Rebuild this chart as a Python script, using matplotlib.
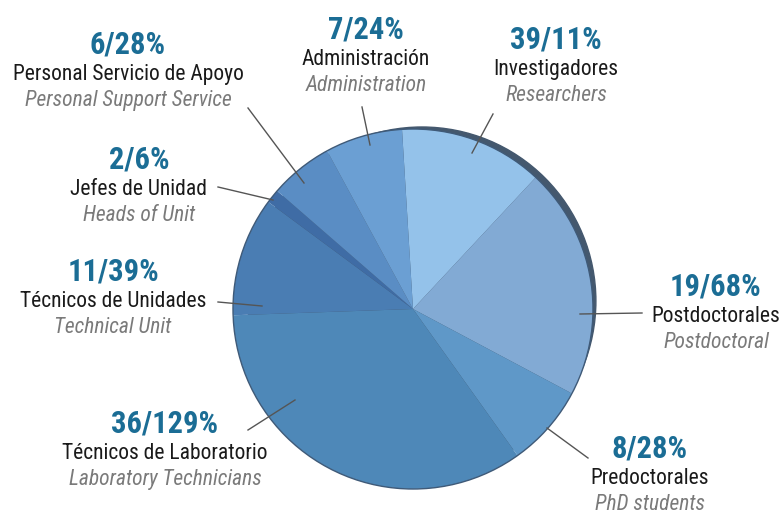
import matplotlib
matplotlib.use("Agg")
import matplotlib.pyplot as plt
from matplotlib.patches import Circle

# ---- data ----
groups_es = ["Investigadores", "Postdoctorales", "Predoctorales",
             "Técnicos de Laboratorio", "Técnicos de Unidades",
             "Jefes de Unidad", "Personal Servicio de Apoyo", "Administración"]
groups_en = ["Researchers", "Postdoctoral", "PhD students",
             "Laboratory Technicians", "Technical Unit",
             "Heads of Unit", "Personal Support Service", "Administration"]
counts = [39, 19, 8, 36, 11, 2, 6, 7]
pcts = [11, 68, 28, 129, 39, 6, 28, 24]
# wedge sizes as drawn in the picture (degrees)
slice_deg = [46.5, 75, 26.5, 123.5, 38.5, 4.5, 20.5, 25]

colors = ["#94c2ea", "#82aad4", "#5f98c8", "#4e88b8",
          "#4a7db3", "#3f6ca5", "#5a8dc4", "#6b9fd3"]

W, H = 781, 511
FONT = ["Roboto Condensed", "Roboto", "DejaVu Sans"]

# label anchor (image pixels): x centre, baseline of first line
label_pos = [(556, 48), (716, 295), (650, 457), (165, 432),
             (113, 280), (139, 168), (128, 53), (366, 38)]
# leader lines (image pixels)
leaders = [((493, 114), (472, 153)), ((642, 313), (580, 314)),
           ((588, 458), (547, 428)), ((248, 430), (295, 400)),
           ((218, 302), (262, 306)), ((218, 187), (273, 200)),
           ((248, 108), (304, 183)), ((362, 107), (370, 145))]

fig = plt.figure(figsize=(W / 100, H / 100), dpi=100)
ax = fig.add_axes([0, 0, 1, 1])

cx, cy, r = 413, H - 309, 180

# dark rim behind the disc (upper right)
ax.add_patch(Circle((cx + 8.9, cy + 8.0), r - 6, color="#44586e", zorder=0))

ax.pie(slice_deg, colors=colors, center=(cx, cy), radius=r,
       startangle=93.5, counterclock=False,
       wedgeprops=dict(linewidth=0))
ax.add_patch(Circle((cx, cy), r, fill=False, edgecolor="#3f5a78",
                    linewidth=1.0, zorder=3))

for (p0, p1) in leaders:
    ax.plot([p0[0], p1[0]], [H - p0[1], H - p1[1]], color="#555555",
            linewidth=1.0, zorder=4)

for i in range(len(counts)):
    x, y = label_pos[i]
    ax.text(x, H - y, f"{counts[i]}/{pcts[i]}%", ha="center", va="baseline",
            fontsize=22, fontweight="bold", color="#1b6d95", family=FONT)
    ax.text(x, H - y - 27, groups_es[i], ha="center", va="baseline",
            fontsize=15.5, color="#1a1a1a", family=FONT)
    ax.text(x, H - y - 53, groups_en[i], ha="center", va="baseline",
            fontsize=15.5, style="italic", color="#7a7a7a", family=FONT)

ax.set_xlim(0, W)
ax.set_ylim(0, H)
ax.set_aspect("auto")
ax.axis("off")

fig.savefig("out.png", dpi=100)
